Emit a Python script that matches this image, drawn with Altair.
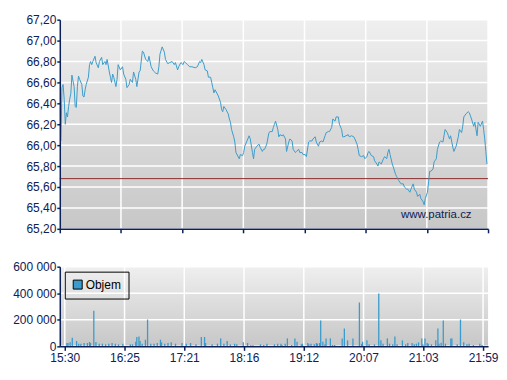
import altair as alt
import pandas as pd

# ---- data ----
minutes = [
    1, 2, 3, 4, 5, 6, 7, 8, 9, 10,
    11, 13, 14, 15, 16, 17, 18, 20, 21, 22,
    23, 24, 26, 27, 28, 29, 30, 32, 33, 35,
    36, 38, 39, 41, 42, 43, 45, 46, 47, 48,
    49, 51, 52, 53, 55, 57, 58, 60, 61, 63,
    64, 66, 67, 69, 70, 72, 73, 75, 76, 78,
    80, 81, 83, 85, 87, 89, 90, 91, 93, 95,
    96, 98, 100, 102, 104, 105, 107, 108, 110, 112,
    113, 114, 116, 118, 120, 123, 125, 127, 128, 129,
    131, 132, 134, 135, 137, 138, 139, 140, 141, 143,
    144, 146, 147, 148, 149, 151, 153, 154, 155, 156,
    158, 159, 160, 162, 163, 164, 166, 167, 168, 170,
    172, 173, 175, 176, 177, 179, 181, 182, 184, 185,
    186, 188, 190, 191, 193, 194, 195, 196, 198, 199,
    200, 202, 203, 205, 206, 208, 209, 211, 212, 214,
    215, 217, 218, 220, 221, 223, 224, 226, 227, 229,
    230, 232, 233, 235, 236, 238, 239, 241, 242, 244,
    245, 247, 248, 250, 251, 253, 254, 256, 257, 258,
    260, 262, 263, 265, 267, 268, 270, 271, 272, 274,
    276, 277, 279, 280, 281, 283, 285, 286, 288, 289,
    290, 292, 294, 295, 297, 298, 299, 300, 302, 303,
    305, 306, 307, 308, 310, 312, 313, 315, 316, 318,
    319, 321, 322, 324, 325, 327, 328, 330, 331, 332,
    334, 335, 336, 337, 339, 340, 342, 343, 345, 346,
    348, 349, 350, 352, 353, 354, 355, 357, 358, 360,
    362, 363, 365, 366, 367, 369, 371, 372, 373, 374,
    376, 377, 379, 380, 382, 384, 385, 386, 387, 388,
]
price = [
    66.04, 66.55, 66.58, 66.44, 66.20, 66.31, 66.27, 66.37, 66.44, 66.49,
    66.67, 66.56, 66.37, 66.36, 66.56, 66.66, 66.63, 66.58, 66.47, 66.46,
    66.53, 66.58, 66.65, 66.77, 66.80, 66.77, 66.80, 66.85, 66.79, 66.74,
    66.80, 66.84, 66.77, 66.80, 66.77, 66.82, 66.70, 66.65, 66.60, 66.68,
    66.65, 66.56, 66.63, 66.77, 66.72, 66.75, 66.68, 66.63, 66.55, 66.58,
    66.63, 66.60, 66.70, 66.63, 66.56, 66.70, 66.71, 66.90, 66.89, 66.82,
    66.80, 66.85, 66.75, 66.71, 66.69, 66.68, 66.75, 66.87, 66.94, 66.89,
    66.82, 66.78, 66.79, 66.80, 66.77, 66.79, 66.72, 66.75, 66.79, 66.77,
    66.80, 66.79, 66.77, 66.75, 66.75, 66.74, 66.75, 66.80, 66.79, 66.82,
    66.77, 66.72, 66.71, 66.65, 66.65, 66.60, 66.55, 66.50, 66.53, 66.49,
    66.47, 66.41, 66.34, 66.32, 66.37, 66.34, 66.30, 66.25, 66.22, 66.15,
    66.08, 66.03, 65.93, 65.89, 65.87, 65.91, 65.90, 65.93, 65.99, 66.04,
    66.09, 66.06, 65.93, 65.87, 65.96, 65.99, 66.01, 65.98, 65.94, 65.96,
    65.96, 66.01, 66.12, 66.13, 66.13, 66.17, 66.20, 66.23, 66.15, 66.08,
    66.10, 66.09, 66.10, 66.06, 65.94, 66.03, 66.06, 66.04, 65.96, 65.93,
    65.94, 65.96, 65.93, 65.93, 65.91, 65.91, 65.89, 66.03, 66.04, 66.04,
    66.06, 66.08, 66.03, 65.99, 66.03, 66.04, 66.03, 66.09, 66.12, 66.13,
    66.13, 66.17, 66.25, 66.23, 66.27, 66.27, 66.20, 66.15, 66.08, 66.08,
    66.09, 66.10, 66.08, 66.09, 66.08, 66.06, 66.01, 65.96, 65.90, 65.89,
    65.90, 65.87, 65.89, 65.93, 65.94, 65.90, 65.89, 65.85, 65.82, 65.80,
    65.84, 65.82, 65.87, 65.89, 65.87, 65.93, 65.96, 65.91, 65.82, 65.79,
    65.72, 65.70, 65.68, 65.66, 65.63, 65.63, 65.60, 65.58, 65.58, 65.55,
    65.58, 65.63, 65.58, 65.55, 65.51, 65.53, 65.49, 65.46, 65.43, 65.49,
    65.55, 65.65, 65.75, 65.75, 65.77, 65.84, 65.87, 65.96, 66.03, 66.04,
    66.03, 66.09, 66.15, 66.12, 66.09, 66.06, 66.09, 65.98, 65.94, 65.99,
    66.08, 66.15, 66.12, 66.18, 66.27, 66.30, 66.32, 66.31, 66.28, 66.25,
    66.18, 66.22, 66.09, 66.22, 66.18, 66.23, 66.15, 66.06, 65.94, 65.82,
]

vol_minutes = [
    2, 3, 5, 7, 11, 13, 15, 18, 21, 23,
    24, 27, 29, 32, 35, 38, 41, 44, 47, 50,
    54, 61, 63, 66, 67, 69, 70, 72, 75, 77,
    80, 83, 86, 89, 90, 93, 96, 99, 103, 109,
    113, 117, 122, 127, 130, 131, 137, 142, 145, 148,
    151, 154, 158, 160, 166, 170, 173, 175, 182, 185,
    188, 195, 198, 201, 202, 205, 207, 211, 214, 216,
    220, 221, 226, 227, 229, 232, 234, 235, 237, 238,
    240, 242, 243, 247, 249, 251, 258, 260, 263, 268,
    274, 276, 277, 281, 283, 288, 292, 294, 296, 300,
    302, 305, 307, 309, 314, 317, 319, 323, 325, 327,
    329, 332, 333, 335, 337, 338, 341, 345, 347, 348,
    350, 352, 354, 359, 360, 365, 368, 371, 374, 376,
    380, 386, 388,
]
volume = [
    25000, 25000, 30000, 65000, 40000, 20000, 20000, 25000, 25000, 33000,
    25000, 268000, 33000, 20000, 20000, 15000, 20000, 25000, 20000, 15000,
    20000, 15000, 15000, 35000, 70000, 75000, 40000, 20000, 50000, 202000,
    20000, 20000, 25000, 50000, 30000, 20000, 25000, 30000, 20000, 25000,
    20000, 25000, 15000, 70000, 70000, 25000, 15000, 20000, 60000, 20000,
    40000, 15000, 20000, 15000, 30000, 25000, 7500, 8000, 15000, 10000,
    20000, 15000, 20000, 20000, 10000, 20000, 60000, 10000, 60000, 35000,
    15000, 20000, 25000, 15000, 20000, 15000, 25000, 20000, 25000, 195000,
    35000, 15000, 60000, 60000, 10000, 10000, 60000, 135000, 45000, 60000,
    330000, 20000, 35000, 45000, 15000, 15000, 398000, 45000, 20000, 60000,
    20000, 15000, 75000, 15000, 45000, 15000, 25000, 25000, 15000, 20000,
    30000, 60000, 15000, 60000, 25000, 20000, 15000, 45000, 135000, 20000,
    28000, 195000, 20000, 60000, 60000, 15000, 202000, 30000, 15000, 20000,
    10000, 20000, 10000,
]

prev_close = 65.68
x_tick_pos = [0, 55.57, 111.14, 166.71, 222.29, 277.86, 333.43, 389]
x_tick_labels = ["15:30", "16:25", "17:21", "18:16", "19:12", "20:07", "21:03", "21:59"]
y_ticks = [65.2, 65.4, 65.6, 65.8, 66.0, 66.2, 66.4, 66.6, 66.8, 67.0, 67.2]
vol_ticks = [0, 200000, 400000, 600000]
watermark = "www.patria.cz"
legend_label = "Objem"

# ---- styles ----
NAVY = "#0c2157"
BLUE = "#3a9ccc"
FONT = "Liberation Sans"
W = 430

price_df = pd.DataFrame({"m": minutes, "p": price})
vol_df = pd.DataFrame({"m": vol_minutes, "v": volume, "s": legend_label})
xt_df = pd.DataFrame({"m": x_tick_pos})
yt_df = pd.DataFrame({"p": y_ticks})
vt_df = pd.DataFrame({"v": vol_ticks})
one = pd.DataFrame({"a": [0]})

grad = alt.Gradient(
    gradient="linear",
    stops=[alt.GradientStop(color="#efefef", offset=0),
           alt.GradientStop(color="#c7c7c7", offset=1)],
    x1=0, x2=0, y1=0, y2=1,
)

x_labels_expr = "[" + ",".join(f"'{l}'" for l in x_tick_labels) + "][round(datum.value*7/389)]"

xscale = alt.Scale(domain=[0, 389], nice=False, zero=False)
yscale = alt.Scale(domain=[65.2, 67.2], nice=False, zero=False)
vscale = alt.Scale(domain=[0, 600000], nice=False)

ax = dict(domainColor=NAVY, domainWidth=1.5, tickColor=NAVY, tickWidth=1.5,
          labelColor=NAVY, labelFont=FONT, labelFontSize=12, grid=False,
          labelOverlap=False, labelFlush=False, title=None, zindex=1)

x_top_axis = alt.Axis(values=x_tick_pos, labels=False, tickSize=4, **ax)
y_top_axis = alt.Axis(values=y_ticks, tickSize=3, labelPadding=1,
                      labelExpr="replace(format(datum.value, '.2f'), '.', ',')", **ax)
x_bot_axis = alt.Axis(values=x_tick_pos, labelExpr=x_labels_expr, tickSize=4,
                      labelPadding=2, **ax)
y_bot_axis = alt.Axis(values=vol_ticks, tickSize=3, labelPadding=1,
                      labelExpr="replace(format(datum.value, ','), ',', ' ')", **ax)

XT = alt.X("m:Q", scale=xscale, axis=x_top_axis)
YT = alt.Y("p:Q", scale=yscale, axis=y_top_axis)
XB = alt.X("m:Q", scale=xscale, axis=x_bot_axis)
YB = alt.Y("v:Q", scale=vscale, axis=y_bot_axis)

bg = alt.Chart(one).mark_rect(fill=grad).encode(
    x=alt.value(0), x2=alt.value("width"), y=alt.value(0), y2=alt.value("height"))

# ---- top panel ----
vgrid_top = alt.Chart(xt_df).mark_rule(color="white", strokeWidth=1.5).encode(x=XT)
hgrid_top = alt.Chart(yt_df).mark_rule(color="white", strokeWidth=1.5).encode(y=YT)
line = alt.Chart(price_df).mark_line(color=BLUE, strokeWidth=1).encode(x=XT, y=YT)
ref = alt.Chart(pd.DataFrame({"p": [prev_close]})).mark_rule(
    color="#8a2a2a", strokeWidth=1).encode(y=YT)
wm = alt.Chart(pd.DataFrame({"m": [342], "p": [65.30], "t": [watermark]})).mark_text(
    font=FONT, fontSize=11.5, color=NAVY, align="center", baseline="alphabetic").encode(
    x=XT, y=YT, text="t:N")

top = alt.layer(bg, vgrid_top, hgrid_top, ref, line, wm).properties(width=W, height=210)

# ---- bottom panel ----
vgrid_bot = alt.Chart(xt_df).mark_rule(color="white", strokeWidth=1.5).encode(x=XB)
hgrid_bot = alt.Chart(vt_df).mark_rule(color="white", strokeWidth=1.5).encode(y=YB)
bars = alt.Chart(vol_df).mark_bar(width=1.3).encode(
    x=XB, y=YB,
    color=alt.Color("s:N", scale=alt.Scale(domain=[legend_label], range=[BLUE]),
                    legend=alt.Legend(title=None, orient="top-left", offset=5,
                                      strokeColor="black", padding=7,
                                      symbolType="square", symbolSize=81,
                                      symbolStrokeColor="black", symbolStrokeWidth=1,
                                      labelFont=FONT, labelFontSize=12,
                                      labelColor="black", labelOffset=2)),
)
bottom = alt.layer(bg, vgrid_bot, hgrid_bot, bars).properties(width=W, height=80)

chart = alt.vconcat(top, bottom, spacing=38, bounds="flush").resolve_scale(
    color="independent"
).resolve_legend(color="independent").properties(
    padding={"left": 4, "top": 5, "right": 0, "bottom": 0},
    background="white",
).configure_view(stroke=None)

chart.save("out.html", embed_options={"renderer": "svg", "actions": False})
